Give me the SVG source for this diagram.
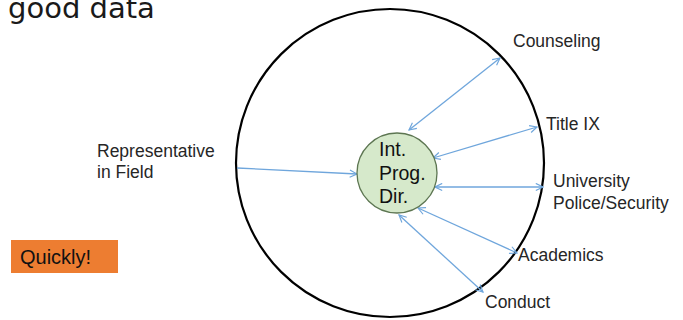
<svg xmlns="http://www.w3.org/2000/svg" width="683" height="320" viewBox="0 0 683 320">
  <style>
    .lbl { font-family: "Liberation Sans", Arial, sans-serif; font-size: 17.5px; fill: #262626; }
    .hub { font-family: "Liberation Sans", Arial, sans-serif; font-size: 19.5px; fill: #111; }
    .link { stroke: #6fa6dc; stroke-width: 1.3; fill: none; }
  </style>
  <defs>
    <marker id="head" viewBox="0 0 10 10" refX="9" refY="5" markerWidth="9" markerHeight="9" markerUnits="userSpaceOnUse" orient="auto-start-reverse">
      <path d="M1,1 L9,5 L1,9" fill="none" stroke="#6fa6dc" stroke-width="1.3"/>
    </marker>
  </defs>

  <rect width="683" height="320" fill="#ffffff"/>

  <text x="8" y="18" font-family="DejaVu Sans, sans-serif" font-size="29" fill="#1a1a1a">good data</text>

  <g id="campus">
    <circle cx="390" cy="163" r="154" fill="none" stroke="#000" stroke-width="2.2"/>
  </g>

  <g id="connectors">
    <line class="link" x1="237" y1="168" x2="357" y2="174" marker-end="url(#head)"/>
    <line class="link" x1="409" y1="130" x2="500" y2="58" marker-start="url(#head)" marker-end="url(#head)"/>
    <line class="link" x1="433" y1="158" x2="537" y2="127" marker-start="url(#head)" marker-end="url(#head)"/>
    <line class="link" x1="435" y1="187" x2="543" y2="187" marker-start="url(#head)" marker-end="url(#head)"/>
    <line class="link" x1="418" y1="208" x2="517" y2="253" marker-start="url(#head)" marker-end="url(#head)"/>
    <line class="link" x1="399" y1="215" x2="483" y2="292" marker-start="url(#head)" marker-end="url(#head)"/>
  </g>

  <g id="director">
    <circle cx="397" cy="173" r="40" fill="#d6e9cb" stroke="#5d7652" stroke-width="1.3"/>
    <text class="hub" x="379" y="156">Int.</text>
    <text class="hub" x="379" y="180">Prog.</text>
    <text class="hub" x="379" y="203">Dir.</text>
  </g>

  <g id="counseling"><text class="lbl" x="513" y="47">Counseling</text></g>
  <g id="title-ix"><text class="lbl" x="546" y="130">Title IX</text></g>
  <g id="police">
    <text class="lbl" x="553" y="187">University</text>
    <text class="lbl" x="553" y="209">Police/Security</text>
  </g>
  <g id="academics"><text class="lbl" x="518" y="261">Academics</text></g>
  <g id="conduct"><text class="lbl" x="485" y="308">Conduct</text></g>
  <g id="representative">
    <text class="lbl" x="97" y="157">Representative</text>
    <text class="lbl" x="97" y="178">in Field</text>
  </g>

  <g id="quickly">
    <rect x="11" y="240" width="107" height="33" fill="#ed7d31"/>
    <text x="20" y="264" font-family="Liberation Sans, Arial, sans-serif" font-size="20" fill="#111">Quickly!</text>
  </g>
</svg>
